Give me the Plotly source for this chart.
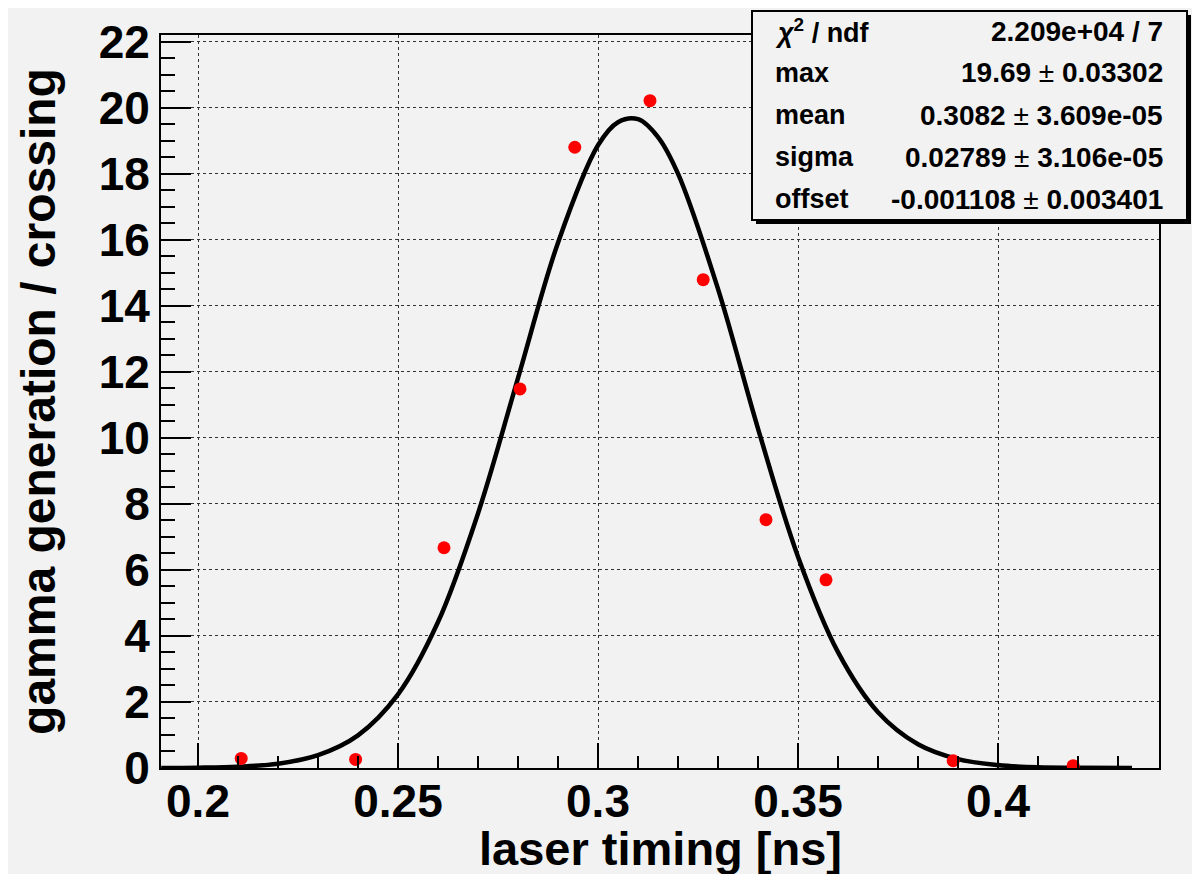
import plotly.graph_objects as go

# ---- data ----
timing = [0.2108, 0.2394, 0.2615, 0.2805, 0.2942, 0.3130, 0.3263, 0.3420, 0.3570, 0.3888, 0.4188]
gamma = [0.29, 0.26, 6.67, 11.48, 18.80, 20.21, 14.79, 7.52, 5.70, 0.22, 0.07]

fit_x = [0.1908, 0.20, 0.21, 0.22, 0.23, 0.24, 0.25, 0.26, 0.27, 0.28, 0.29, 0.30, 0.305, 0.31,
         0.315, 0.32, 0.33, 0.34, 0.35, 0.36, 0.37, 0.38, 0.39, 0.40, 0.41, 0.42, 0.4335]
fit_y = [0.0, 0.01, 0.04, 0.13, 0.39, 0.99, 2.23, 4.42, 7.71, 11.81, 15.91, 18.86, 19.56, 19.65,
         19.11, 18.00, 14.51, 10.28, 6.40, 3.51, 1.69, 0.72, 0.27, 0.09, 0.02, 0.01, 0.0]

x_title = "laser timing [ns]"
y_title = "gamma generation / crossing"

stat_labels = ["<i>χ</i><sup>2</sup> / ndf", "max", "mean", "sigma", "offset"]
stat_values = ["2.209e+04 / 7",
               "19.69 <span style='font-weight:normal'>±</span> 0.03302",
               "0.3082 <span style='font-weight:normal'>±</span> 3.609e-05",
               "0.02789 <span style='font-weight:normal'>±</span> 3.106e-05",
               "-0.001108 <span style='font-weight:normal'>±</span> 0.003401"]

# ---- layout geometry (figure pixels) ----
W, H = 1200, 874
L, R, T, B = 153, 1151, 27, 760


def px(xp):
    return (xp - L) / (R - L)


def py(yp):
    return (B - yp) / (B - T)


FONT = "Liberation Sans, Arial, Helvetica, sans-serif"

fig = go.Figure()
fig.add_trace(go.Scatter(x=fit_x, y=fit_y, mode="lines", line=dict(color="black", width=4.5, shape="spline"),
                         showlegend=False, hoverinfo="skip"))
fig.add_trace(go.Scatter(x=timing, y=gamma, mode="markers", marker=dict(color="#ff0000", size=13),
                         showlegend=False))

shapes = [
    # stats box shadow
    dict(type="rect", xref="paper", yref="paper", x0=px(748), x1=px(1183), y0=py(216), y1=py(7),
         fillcolor="black", line=dict(width=0), layer="above"),
    # stats box
    dict(type="rect", xref="paper", yref="paper", x0=px(744), x1=px(1179), y0=py(212), y1=py(3),
         fillcolor="#f2f2f2", line=dict(color="black", width=2), layer="above"),
]

annotations = []
row_y = [23, 65, 107, 149, 191]
for lab, val, yy in zip(stat_labels, stat_values, row_y):
    annotations.append(dict(xref="paper", yref="paper", x=px(765), y=py(yy), text=lab, showarrow=False,
                            xanchor="left", yanchor="middle",
                            font=dict(family=FONT, size=27, color="black", weight="bold")))
    annotations.append(dict(xref="paper", yref="paper", x=px(1157), y=py(yy), text=val, showarrow=False,
                            xanchor="right", yanchor="middle",
                            font=dict(family=FONT, size=28, color="black", weight="bold")))

# x-axis title, placed as in the reference (tight under the tick labels)
annotations.append(dict(xref="paper", yref="paper", x=0.5, y=py(840), text=x_title, showarrow=False,
                        xanchor="center", yanchor="middle",
                        font=dict(family=FONT, size=47, color="black", weight="bold")))

axis_common = dict(showline=True, linecolor="black", linewidth=2, mirror=True,
                   ticks="inside", tickcolor="black", tickwidth=1.5,
                   showgrid=True, gridcolor="#333333", griddash="dot", gridwidth=1,
                   zeroline=False,
                   tickfont=dict(family=FONT, size=46, color="black", weight="bold"))

fig.update_layout(
    width=W, height=H,
    margin=dict(l=L, r=W - R, t=T, b=H - B, autoexpand=False),
    paper_bgcolor="#f2f2f2", plot_bgcolor="#f2f2f2",
    xaxis=dict(range=[0.19075, 0.44025], tickvals=[0.2, 0.25, 0.3, 0.35, 0.4],
               ticktext=["0.2", "0.25", "0.3", "0.35", "0.4"], ticklen=25, ticklabelstandoff=-8,
               minor=dict(dtick=0.01, tick0=0.2, ticklen=12, ticks="inside", tickcolor="black", showgrid=False),
               **axis_common),
    yaxis=dict(range=[0, 22.2], dtick=2, tick0=0, ticklen=30,
               minor=dict(dtick=0.5, tick0=0, ticklen=14, ticks="inside", tickcolor="black", showgrid=False),
               title=dict(text=y_title, standoff=28,
                          font=dict(family=FONT, size=48, color="black", weight="bold")),
               **axis_common),
    shapes=shapes,
    annotations=annotations,
)

fig.write_html("out.html")
